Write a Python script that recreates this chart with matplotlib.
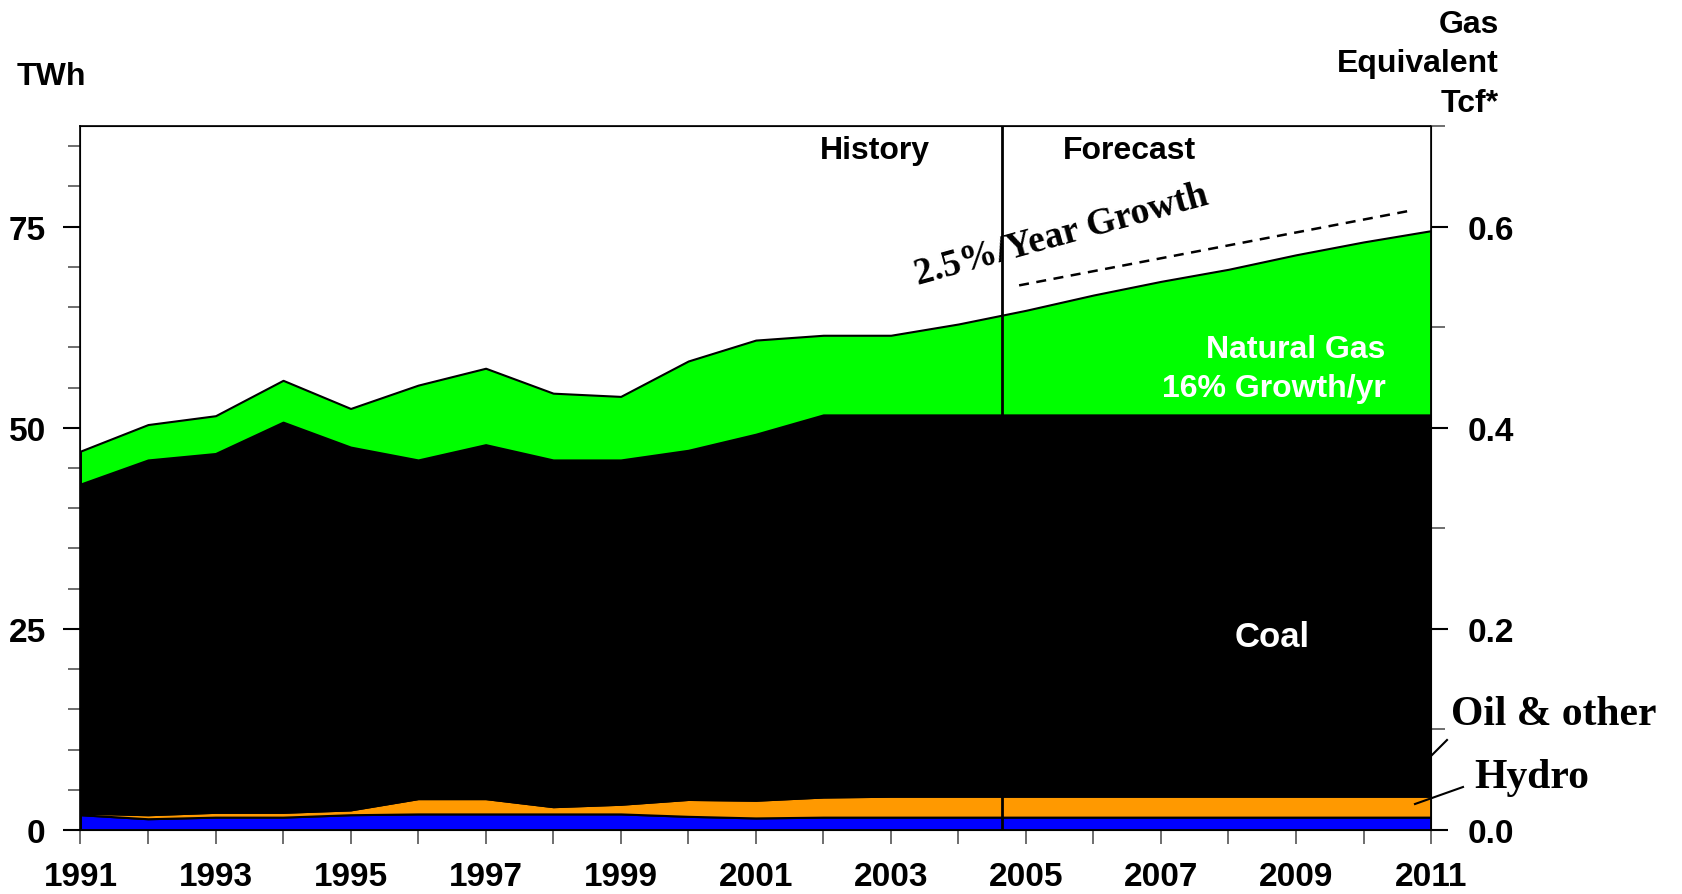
import matplotlib
matplotlib.use("Agg")
import matplotlib.pyplot as plt
import numpy as np

# values (TWh)
years = np.arange(1991, 2012)
hydro = [1.9, 1.4, 1.6, 1.6, 1.9, 2.0, 2.0, 2.0, 2.0, 1.7, 1.5,
         1.6, 1.6, 1.6, 1.6, 1.6, 1.6, 1.6, 1.6, 1.6, 1.6]
oil = [0.2, 0.5, 0.6, 0.6, 0.6, 1.9, 1.9, 0.9, 1.2, 2.1, 2.2,
       2.5, 2.6, 2.6, 2.6, 2.6, 2.6, 2.6, 2.6, 2.6, 2.6]
coal = [40.9, 44.1, 44.6, 48.5, 45.1, 42.1, 44.0, 43.1, 42.8, 43.4, 45.5,
        47.5, 47.4, 47.4, 47.4, 47.4, 47.4, 47.4, 47.4, 47.4, 47.4]
gas = [4.1, 4.4, 4.7, 5.2, 4.8, 9.3, 9.5, 8.3, 7.9, 11.1, 11.7,
       9.9, 9.9, 11.3, 13.0, 14.9, 16.6, 18.1, 19.9, 21.5, 22.9]

divider_year = 2004.65
growth_years = [2004.9, 2010.7]
growth_vals = [67.7, 77.0]

colors = ["#0000ff", "#ff9900", "#000000", "#00ff00"]
tcf_per_twh = 0.6 / 75
ymax = 87.5

SANS = "Liberation Sans"
SERIF = "Liberation Serif"
FS = 23

fig = plt.figure(figsize=(16.83, 8.95), dpi=100)
ax = fig.add_axes([0.0478, 0.0715, 0.8025, 0.7865])

ax.stackplot(years, hydro, oil, coal, gas, colors=colors,
             edgecolor="black", linewidth=1.5)

ax.set_xlim(1991, 2011)
ax.set_ylim(0, ymax)

ax.axvline(divider_year, color="black", lw=2)
ax.plot(growth_years, growth_vals, ls=(0, (4, 3)), color="black", lw=1.8)

# axes / ticks
ax.set_xticks(years, minor=True)
ax.set_xticks(years[::2])
ax.set_xticklabels([str(y) for y in years[::2]], fontfamily=SANS,
                   fontweight="bold", fontsize=24)
ax.set_yticks([0, 25, 50, 75])
ax.set_yticks(np.arange(0, 90, 5), minor=True)
ax.set_yticklabels(["0", "25", "50", "75"], fontfamily=SANS,
                   fontweight="bold", fontsize=24)
ax.tick_params(axis="x", which="both", direction="out", length=10,
               width=1.2, color="#555555", pad=12)
ax.tick_params(axis="y", which="major", direction="out", length=12,
               width=1.5, pad=13)
ax.tick_params(axis="y", which="minor", direction="out", length=9,
               width=1.2, color="#555555")
for s in ax.spines.values():
    s.set_linewidth(1.2)

ax2 = ax.twinx()
ax2.set_ylim(0, ymax * tcf_per_twh)
ax2.set_yticks([0.0, 0.2, 0.4, 0.6])
ax2.set_yticks(np.arange(0, 0.71, 0.1), minor=True)
ax2.set_yticklabels(["0.0", "0.2", "0.4", "0.6"], fontfamily=SANS,
                    fontweight="bold", fontsize=24)
ax2.tick_params(axis="y", which="major", direction="out", length=12,
                width=1.5, pad=14)
ax2.tick_params(axis="y", which="minor", direction="out", length=10,
                width=1.2, color="#555555")

# labels
fig.text(17 / 1683, 1 - 85 / 895, "TWh", fontfamily=SANS, fontweight="bold",
         fontsize=FS, ha="left", va="baseline")
fig.text(1499 / 1683, 1 - 112 / 895, "Gas\nEquivalent\nTcf*", fontfamily=SANS,
         fontweight="bold", fontsize=FS, ha="right", va="baseline",
         multialignment="right", linespacing=1.42)

ax.text(2002.77, 84.5, "History", fontfamily=SANS, fontweight="bold",
        fontsize=FS, ha="center", va="center")
ax.text(2006.53, 84.5, "Forecast", fontfamily=SANS, fontweight="bold",
        fontsize=FS, ha="center", va="center")
ax.text(2003.4, 67.9, "2.5%/Year Growth", fontfamily=SERIF, fontweight="bold",
        fontsize=27, rotation=15.5, rotation_mode="anchor",
        ha="left", va="baseline")

ax.text(2010.33, 59.8, "Natural Gas", fontfamily=SANS, fontweight="bold",
        fontsize=FS, color="white", ha="right", va="center")
ax.text(2010.33, 54.9, "16% Growth/yr", fontfamily=SANS, fontweight="bold",
        fontsize=FS, color="white", ha="right", va="center")
ax.text(2008.65, 24.0, "Coal", fontfamily=SANS, fontweight="bold",
        fontsize=25, color="white", ha="center", va="center")

fig.text(1451 / 1683, 1 - 715 / 895, "Oil & other", fontfamily=SERIF,
         fontweight="bold", fontsize=30, ha="left", va="center")
fig.text(1474 / 1683, 1 - 778 / 895, "Hydro", fontfamily=SERIF,
         fontweight="bold", fontsize=30, ha="left", va="center")
fig.add_artist(plt.Line2D([1432 / 1683, 1447 / 1683],
                          [1 - 756 / 895, 1 - 741 / 895], color="black", lw=1.5))
fig.add_artist(plt.Line2D([1415 / 1683, 1463 / 1683],
                          [1 - 805 / 895, 1 - 788 / 895], color="black", lw=1.5))

fig.savefig("out.png", dpi=100)
